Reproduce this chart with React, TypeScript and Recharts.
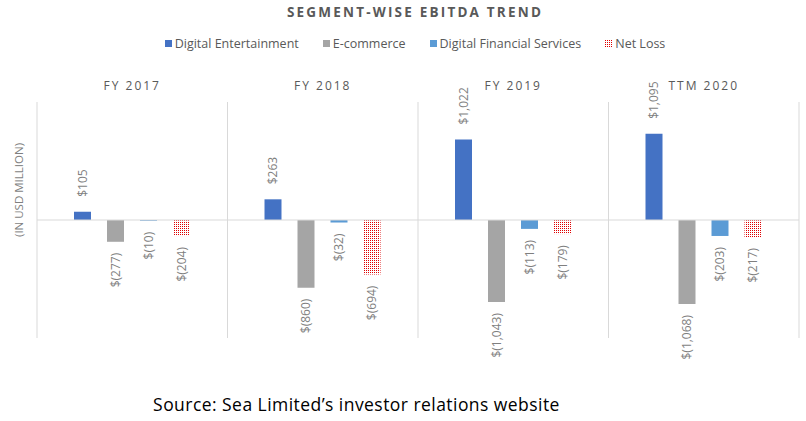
import React from 'react';
import { BarChart, Bar, XAxis, YAxis, CartesianGrid, ReferenceLine, LabelList } from 'recharts';

const categories = ['FY 2017', 'FY 2018', 'FY 2019', 'TTM 2020'];
const digitalEntertainment = [105, 263, 1022, 1095];
const ecommerce = [-277, -860, -1043, -1068];
const digitalFinancialServices = [-10, -32, -113, -203];
const netLoss = [-204, -694, -179, -217];

const seriesNames = ['Digital Entertainment', 'E-commerce', 'Digital Financial Services', 'Net Loss'];
const seriesKeys = ['de', 'ec', 'dfs', 'nl'];
const seriesColors = ['#4472C4', '#A5A5A5', '#5B9BD5', 'url(#nlDots)'];
const yDomain = [-1500, 1500];

const data = categories.map((c, i) => ({
  category: c,
  de: digitalEntertainment[i],
  ec: ecommerce[i],
  dfs: digitalFinancialServices[i],
  nl: netLoss[i],
}));

const FONT = "'Open Sans', Lato, sans-serif";

const fmt = (v: number) =>
  v < 0 ? `$(${Math.abs(v).toLocaleString('en-US')})` : `$${v.toLocaleString('en-US')}`;

const RotLabel = (props: any) => {
  const { x, y, width, height, value } = props;
  const cx = x + width / 2;
  const top = Math.min(y, y + height);
  const bottom = Math.max(y, y + height);
  const neg = value < 0;
  const ay = neg ? bottom + 11 : top - 15;
  return (
    <text
      x={cx}
      y={ay}
      transform={`rotate(-90, ${cx}, ${ay})`}
      textAnchor={neg ? 'end' : 'start'}
      dominantBaseline="central"
      fill="#7F7F7F"
      fontSize={12}
      fontFamily={FONT}
    >
      {fmt(value)}
    </text>
  );
};

const Swatch = ({ i }: { i: number }) => (
  <svg width={7} height={7} style={{ marginRight: 3, display: 'block' }}>
    <defs>
      <pattern id={`lg${i}`} width={2} height={2} patternUnits="userSpaceOnUse">
        <rect width={2} height={2} fill="#fff" />
        <rect width={1} height={1} fill="#E00000" />
      </pattern>
    </defs>
    <rect width={7} height={7} fill={i === 3 ? `url(#lg${i})` : seriesColors[i]} />
  </svg>
);

export default function App() {
  return (
    <div style={{ position: 'absolute', left: 0, top: 0, width: 806, height: 421, background: '#fff', fontFamily: FONT }}>
      <div
        style={{
          position: 'absolute', top: 3, left: 0, width: 830, textAlign: 'center',
          fontSize: 13.5, fontWeight: 700, letterSpacing: 2.2, color: '#595959',
        }}
      >
        SEGMENT-WISE EBITDA TREND
      </div>
      <div
        style={{
          position: 'absolute', top: 35, left: 0, width: 830, display: 'flex',
          justifyContent: 'center', alignItems: 'center', fontSize: 12.5, color: '#595959',
        }}
      >
        {seriesNames.map((n, i) => (
          <div key={n} style={{ display: 'flex', alignItems: 'center', marginLeft: i ? 24 : 0 }}>
            <Swatch i={i} />
            <span>{n}</span>
          </div>
        ))}
      </div>
      <div style={{ position: 'absolute', left: 0, top: 0 }}>
        <BarChart
          width={806}
          height={421}
          data={data}
          margin={{ top: 72, right: 7, bottom: 83, left: 37 }}
          barSize={17}
          barGap={16}
        >
          <defs>
            <pattern id="nlDots" width={2} height={2} patternUnits="userSpaceOnUse">
              <rect width={2} height={2} fill="#fff" />
              <rect width={1} height={1} fill="#E00000" />
            </pattern>
          </defs>
          <CartesianGrid
            horizontal={false}
            stroke="#D9D9D9"
            verticalCoordinatesGenerator={(p: any) =>
              categories.concat(['']).map((_, i) => p.offset.left + (i * p.offset.width) / categories.length)
            }
          />
          <XAxis
            dataKey="category"
            orientation="top"
            height={30}
            axisLine={false}
            tickLine={false}
            tickSize={0}
            tickMargin={12}
            interval={0}
            tick={{ fill: '#595959', fontSize: 12, letterSpacing: 2, fontFamily: FONT }}
          />
          <YAxis hide domain={yDomain} type="number" allowDataOverflow />
          <ReferenceLine y={0} stroke="#D9D9D9" />
          {seriesKeys.map((k, i) => (
            <Bar key={k} dataKey={k} name={seriesNames[i]} fill={seriesColors[i]} isAnimationActive={false}>
              <LabelList dataKey={k} content={RotLabel} />
            </Bar>
          ))}
        </BarChart>
      </div>
      <svg style={{ position: 'absolute', left: 0, top: 0 }} width={40} height={421}>
        <text
          x={18.5}
          y={190}
          transform="rotate(-90, 18.5, 190)"
          textAnchor="middle"
          dominantBaseline="central"
          fill="#7F7F7F"
          fontSize={11.5}
          fontFamily={FONT}
        >
          (IN USD MILLION)
        </text>
      </svg>
      <div
        style={{
          position: 'absolute', top: 392, left: 0, width: 713, textAlign: 'center',
          fontSize: 17.5, letterSpacing: 0.45, color: '#000',
        }}
      >
        Source: Sea Limited’s investor relations website
      </div>
    </div>
  );
}
